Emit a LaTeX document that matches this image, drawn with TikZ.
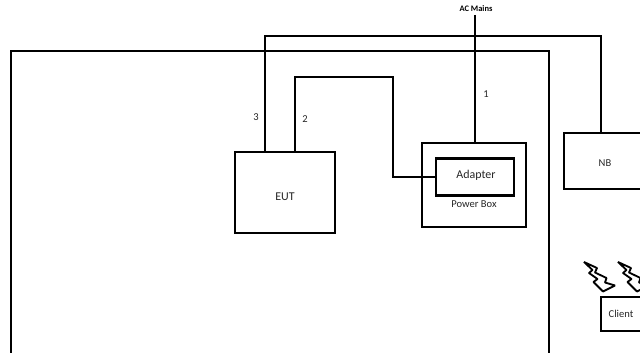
\documentclass[tikz,border=0pt]{standalone}
\usepackage{fontspec}
\setmainfont{Carlito}
\usetikzlibrary{positioning, calc}
\tikzstyle{box} = [rectangle, draw=black, line width=2.1pt, inner sep=0pt]
\tikzstyle{wire} = [line width=2.1pt]
\tikzstyle{label} = [font=\fontsize{7.5pt}{9pt}\selectfont, text=black!85]
\tikzstyle{biglabel} = [font=\fontsize{8.5pt}{10pt}\selectfont, text=black!85]
\tikzstyle{bolt} = [draw=black, line width=1.3pt, fill=white, line join=bevel]

\begin{document}
\begin{tikzpicture}[x=0.025cm, y=-0.025cm]
    \clip (0, 0) rectangle (640, 353);
    \useasboundingbox (0, 0) rectangle (640, 353);

    % Room
    \coordinate (roomsw) at (11, 360);
    \coordinate (roomse) at (549, 360);
    \draw[wire] (roomsw) |- (549, 51) -- (roomse);

    % Boxes
    \node[box, minimum width=2.5cm, minimum height=2.025cm] (eut) at (285, 192.5) {};
    \node[biglabel] (eutlabel) at (285, 196.5) {EUT};
    \node[box, minimum width=2.6cm, minimum height=2.1cm] (power) at (474, 185) {};
    \node[box, minimum width=1.95cm, minimum height=0.925cm] (adapter) at (475, 177) {};
    \node[biglabel] (adapterlabel) at (476, 175) {Adapter};
    \node[label] (powerlabel) at (474, 204.5) {Power Box};
    \node[box, minimum width=2.05cm, minimum height=1.4cm] (nb) at (605, 161) {};
    \node[label] (nblabel) at (605, 163.5) {NB};
    \node[box, minimum width=1cm, minimum height=0.85cm] (client) at (621, 314) {};
    \node[label] (clientlabel) at (621, 314) {Client};

    % Wires
    \coordinate (mains) at (475, 15);
    \coordinate (eutthree) at (265, 152);
    \coordinate (euttwo) at (295, 152);
    \coordinate (nbtop) at (601, 133);
    \draw[wire] (mains) -- (mains |- power.north);
    \draw[wire] (eutthree) |- (601, 36) -- (nbtop);
    \draw[wire] (euttwo) |- (393, 77) |- (adapter.west);

    % Wireless
    \foreach \offs in {0, 34} {
        \draw[bolt, xshift=\offs*0.025cm] (584, 262) -- (597, 268) -- (595, 272.5) -- (606.5, 278) -- (605, 282.5) -- (615, 285.5) -- (603, 291.5) -- (593.5, 282) -- (597.5, 279) -- (589, 273) -- (592.5, 270) -- cycle;
    }

    % Labels
    \node[font=\fontsize{6pt}{7pt}\selectfont\bfseries] (mainslabel) at (476, 9) {AC Mains};
    \node[label] (onelabel) at (486, 94) {1};
    \node[label] (twolabel) at (305, 119) {2};
    \node[label] (threelabel) at (256, 117) {3};
\end{tikzpicture}
\end{document}
